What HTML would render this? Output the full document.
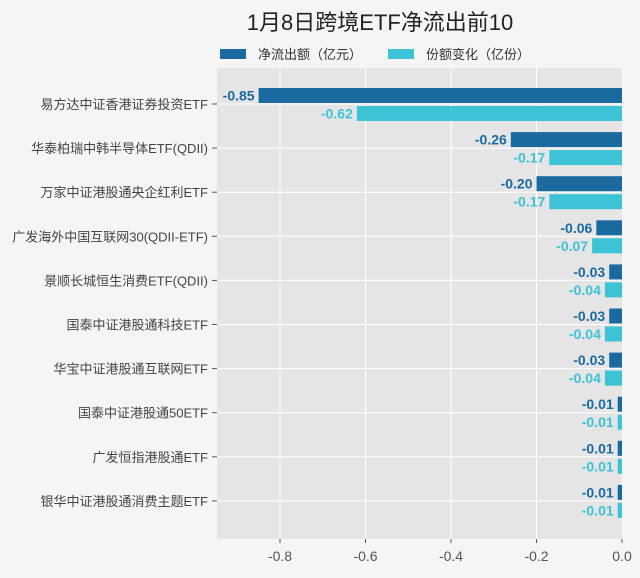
<!DOCTYPE html>
<html><head><meta charset="utf-8"><style>
body{margin:0;background:#f5f5f5;}
text{font-family:"Liberation Sans","Noto Sans CJK SC",sans-serif;}
.c{font-size:13px;fill:#444;text-anchor:end}
.a{font-size:14px;font-weight:bold;fill:#1a6aa0;text-anchor:end}
.b{font-size:14px;font-weight:bold;fill:#3dc2d6;text-anchor:end}
</style></head><body>
<svg width="640" height="573" xmlns="http://www.w3.org/2000/svg">
<rect width="640" height="573" fill="#f5f5f5"/>
<text x="380" y="30" font-size="22" fill="#222" text-anchor="middle">1月8日跨境ETF净流出前10</text>
<rect x="220" y="49" width="26" height="10" fill="#1a6aa0"/>
<text x="258" y="59" font-size="13" fill="#333">净流出额（亿元）</text>
<rect x="388" y="49" width="26" height="10" fill="#3dc2d6"/>
<text x="426" y="59" font-size="13" fill="#333">份额变化（亿份）</text>
<rect x="217" y="68" width="405" height="471" fill="#e5e5e5"/>
<g stroke="#fff" stroke-width="1">
<line x1="280" y1="68" x2="280" y2="539"/><line x1="365.5" y1="68" x2="365.5" y2="539"/>
<line x1="451" y1="68" x2="451" y2="539"/><line x1="536.5" y1="68" x2="536.5" y2="539"/>
<line x1="217" y1="104" x2="622" y2="104"/><line x1="217" y1="148.1" x2="622" y2="148.1"/>
<line x1="217" y1="192.2" x2="622" y2="192.2"/><line x1="217" y1="236.3" x2="622" y2="236.3"/>
<line x1="217" y1="280.4" x2="622" y2="280.4"/><line x1="217" y1="324.5" x2="622" y2="324.5"/>
<line x1="217" y1="368.6" x2="622" y2="368.6"/><line x1="217" y1="412.7" x2="622" y2="412.7"/>
<line x1="217" y1="456.8" x2="622" y2="456.8"/><line x1="217" y1="500.9" x2="622" y2="500.9"/>
</g>
<g stroke="#555">
<line x1="212" y1="104" x2="217" y2="104"/><line x1="212" y1="148.1" x2="217" y2="148.1"/>
<line x1="212" y1="192.2" x2="217" y2="192.2"/><line x1="212" y1="236.3" x2="217" y2="236.3"/>
<line x1="212" y1="280.4" x2="217" y2="280.4"/><line x1="212" y1="324.5" x2="217" y2="324.5"/>
<line x1="212" y1="368.6" x2="217" y2="368.6"/><line x1="212" y1="412.7" x2="217" y2="412.7"/>
<line x1="212" y1="456.8" x2="217" y2="456.8"/><line x1="212" y1="500.9" x2="217" y2="500.9"/>
<line x1="280" y1="539" x2="280" y2="543"/><line x1="365.5" y1="539" x2="365.5" y2="543"/><line x1="451" y1="539" x2="451" y2="543"/><line x1="536.5" y1="539" x2="536.5" y2="543"/><line x1="622" y1="539" x2="622" y2="543"/>
</g>
<text class="c" x="208" y="109">易方达中证香港证券投资ETF</text>
<text class="c" x="208" y="153.1">华泰柏瑞中韩半导体ETF(QDII)</text>
<text class="c" x="208" y="197.2">万家中证港股通央企红利ETF</text>
<text class="c" x="208" y="241.3">广发海外中国互联网30(QDII-ETF)</text>
<text class="c" x="208" y="285.4">景顺长城恒生消费ETF(QDII)</text>
<text class="c" x="208" y="329.5">国泰中证港股通科技ETF</text>
<text class="c" x="208" y="373.6">华宝中证港股通互联网ETF</text>
<text class="c" x="208" y="417.7">国泰中证港股通50ETF</text>
<text class="c" x="208" y="461.8">广发恒指港股通ETF</text>
<text class="c" x="208" y="505.9">银华中证港股通消费主题ETF</text>
<g fill="#1a6aa0">
<rect x="258.6" y="88" width="363.4" height="15"/>
<rect x="510.8" y="132.1" width="111.2" height="15"/>
<rect x="536.5" y="176.2" width="85.5" height="15"/>
<rect x="596.3" y="220.3" width="25.7" height="15"/>
<rect x="609.2" y="264.4" width="12.8" height="15"/>
<rect x="609.2" y="308.5" width="12.8" height="15"/>
<rect x="609.2" y="352.6" width="12.8" height="15"/>
<rect x="617.7" y="396.7" width="4.3" height="15"/>
<rect x="617.7" y="440.8" width="4.3" height="15"/>
<rect x="617.7" y="484.9" width="4.3" height="15"/>
</g>
<g fill="#3dc2d6">
<rect x="356.9" y="106" width="265.1" height="15"/>
<rect x="549.3" y="150.1" width="72.7" height="15"/>
<rect x="549.3" y="194.2" width="72.7" height="15"/>
<rect x="592.1" y="238.3" width="29.9" height="15"/>
<rect x="604.9" y="282.4" width="17.1" height="15"/>
<rect x="604.9" y="326.5" width="17.1" height="15"/>
<rect x="604.9" y="370.6" width="17.1" height="15"/>
<rect x="617.7" y="414.7" width="4.3" height="15"/>
<rect x="617.7" y="458.8" width="4.3" height="15"/>
<rect x="617.7" y="502.9" width="4.3" height="15"/>
</g>
<text class="a" x="254.6" y="100.5">-0.85</text>
<text class="a" x="506.8" y="144.6">-0.26</text>
<text class="a" x="532.5" y="188.7">-0.20</text>
<text class="a" x="592.3" y="232.8">-0.06</text>
<text class="a" x="605.2" y="276.9">-0.03</text>
<text class="a" x="605.2" y="321">-0.03</text>
<text class="a" x="605.2" y="365.1">-0.03</text>
<text class="a" x="613.7" y="409.2">-0.01</text>
<text class="a" x="613.7" y="453.3">-0.01</text>
<text class="a" x="613.7" y="497.4">-0.01</text>
<text class="b" x="352.9" y="118.5">-0.62</text>
<text class="b" x="545.3" y="162.6">-0.17</text>
<text class="b" x="545.3" y="206.7">-0.17</text>
<text class="b" x="588.1" y="250.8">-0.07</text>
<text class="b" x="600.9" y="294.9">-0.04</text>
<text class="b" x="600.9" y="339">-0.04</text>
<text class="b" x="600.9" y="383.1">-0.04</text>
<text class="b" x="613.7" y="427.2">-0.01</text>
<text class="b" x="613.7" y="471.3">-0.01</text>
<text class="b" x="613.7" y="515.4">-0.01</text>
<g font-size="14" fill="#555" text-anchor="middle">
<text x="280" y="561">-0.8</text><text x="365.5" y="561">-0.6</text><text x="451" y="561">-0.4</text><text x="536.5" y="561">-0.2</text><text x="622" y="561">0.0</text>
</g>
</svg>
</body></html>
